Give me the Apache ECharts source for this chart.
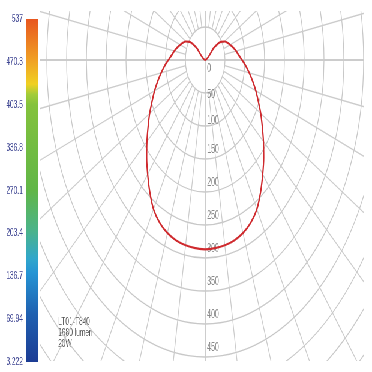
<!DOCTYPE html>
<html>
<head>
<meta charset="utf-8">
<script src="https://cdn.jsdelivr.net/npm/echarts@6.0.0/dist/echarts.min.js"></script>
<style>
  html, body { margin: 0; padding: 0; background: #fff; }
  /* the source picture is a wide diagram squeezed into a square */
  #wrap { position: relative; width: 620px; height: 372px; transform: scaleX(0.6); transform-origin: 0 0; }
  #scaleChart { position: absolute; left: 0; top: 0; width: 67px; height: 372px; }
  #polarChart { position: absolute; left: 67px; top: 11px; width: 540px; height: 350px; }
</style>
</head>
<body>
<div id="wrap">
  <div id="scaleChart"></div>
  <div id="polarChart"></div>
</div>
<script>
// C0-C180 plane: gamma angle from nadir (deg) and luminous intensity (cd)
var gammaAngles = [0, 5, 10, 15, 20, 25, 30, 35, 40, 45, 50, 55, 60, 65, 70, 75, 80, 85, 90,
    95, 100, 105, 110, 115, 120, 125, 130, 135, 140, 150, 160, 170, 180];
var intensity = [287, 286, 285, 283, 279, 272, 261, 244, 226, 209, 192, 176, 162, 148, 136, 124, 113, 103, 93,
    85, 79, 73, 67, 62, 56, 48, 29, 0, 0, 0, 0, 0, 0];

// colour scale labels, bottom to top
var scaleLabels = ["3.222", "69.94", "136.7", "203.4", "270.1", "336.8", "403.5", "470.3", "537"];

var infoLines = ["LT01-T840", "1680 lumen", "20W"];

var fontFamily = "Liberation Sans, Arial, sans-serif";

// the curve is symmetric, second half is the same plane mirrored
var curve = [];
for (var i = 0; i < gammaAngles.length; i++) {
    curve.push([intensity[i], gammaAngles[i]]);
}
for (var i = gammaAngles.length - 2; i >= 0; i--) {
    curve.push([intensity[i], 360 - gammaAngles[i]]);
}

var scaleChart = echarts.init(document.getElementById("scaleChart"));
var option_scale = {
    animation: false,
    grid: { left: 43, width: 20, top: 19, bottom: 10 },
    xAxis: { type: "category", data: ["cd"], show: false },
    yAxis: {
        type: "value",
        min: 0,
        max: scaleLabels.length - 1,
        interval: 1,
        axisLine: { show: false },
        axisTick: { show: false },
        splitLine: { show: false },
        axisLabel: {
            margin: 5,
            fontSize: 11,
            fontFamily: fontFamily,
            color: "#3e4592",
            formatter: function (v) { return scaleLabels[v]; }
        }
    },
    series: [
        {
            type: "bar",
            silent: true,
            barWidth: "100%",
            data: [scaleLabels.length - 1],
            itemStyle: {
                color: new echarts.graphic.LinearGradient(0, 0, 0, 1, [
                    { offset: 0, color: "#e8561f" },
                    { offset: 0.12, color: "#f0a024" },
                    { offset: 0.19, color: "#f0d022" },
                    { offset: 0.22, color: "#a2cc38" },
                    { offset: 0.25, color: "#84c23c" },
                    { offset: 0.5, color: "#60b647" },
                    { offset: 0.62, color: "#4ab38c" },
                    { offset: 0.7, color: "#30a6cc" },
                    { offset: 0.74, color: "#2594d4" },
                    { offset: 0.86, color: "#1f60b0" },
                    { offset: 1, color: "#1c3c94" }
                ])
            }
        }
    ]
};
scaleChart.setOption(option_scale);

// label style name per ring, the inner labels sit a bit lower
function ringLabel(v) {
    if (v > 450) return "";
    if (v === 0) return "{z|0}";
    if (v === 50) return "{a|50}";
    if (v === 100) return "{b|100}";
    return "{v|" + v + "}";
}
var labelBase = { color: "#8a8a8a", fontSize: 12, fontFamily: fontFamily };

var polarChart = echarts.init(document.getElementById("polarChart"));
var option_polar = {
    animation: false,
    polar: [
        { center: [275, 49], radius: [0, 396] },
        { center: [275, 49], radius: [33, 396] }
    ],
    angleAxis: [
        {
            polarIndex: 0, type: "value", min: 0, max: 360, interval: 90,
            startAngle: 270, clockwise: false,
            axisLine: { show: false }, axisTick: { show: false }, axisLabel: { show: false },
            splitLine: { show: true, lineStyle: { color: "#c4c4c4", width: 1.6 } }
        },
        {
            polarIndex: 1, type: "value", min: 0, max: 360, interval: 10,
            startAngle: 270, clockwise: false,
            axisLine: { show: false }, axisTick: { show: false }, axisLabel: { show: false },
            splitLine: { show: true, lineStyle: { color: "#cccccc", width: 1.3 } }
        }
    ],
    radiusAxis: [
        {
            polarIndex: 0, type: "value", min: 0, max: 600, interval: 50,
            axisLine: { show: false }, axisTick: { show: false },
            splitLine: { show: true, lineStyle: { color: "#c8c8c8", width: 1.3 } },
            axisLabel: {
                margin: 3,
                formatter: ringLabel,
                rich: {
                    v: Object.assign({ padding: [0, 0, 18, 0] }, labelBase),
                    b: Object.assign({ padding: [0, 0, 10, 0] }, labelBase),
                    a: Object.assign({ padding: [4, 0, 0, 0] }, labelBase),
                    z: Object.assign({ padding: [18, 0, 0, 0] }, labelBase)
                }
            }
        },
        { polarIndex: 1, type: "value", min: 0, max: 600, show: false }
    ],
    graphic: [
        {
            type: "text",
            left: 30,
            top: 305,
            style: {
                text: infoLines.join("\n"),
                fontSize: 11,
                lineHeight: 11,
                fontFamily: fontFamily,
                fill: "#555555"
            }
        }
    ],
    series: [
        {
            type: "line",
            coordinateSystem: "polar",
            polarIndex: 0,
            smooth: 0.3,
            symbol: "none",
            lineStyle: { color: "#cf2a2e", width: 2.2 },
            data: curve
        }
    ]
};
polarChart.setOption(option_polar);
</script>
</body>
</html>
